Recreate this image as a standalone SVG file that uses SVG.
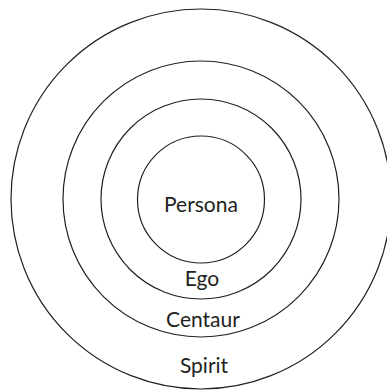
<svg xmlns="http://www.w3.org/2000/svg" width="387" height="391" viewBox="0 0 387 391">
<style>
.ring{fill:none;stroke:#231f20;stroke-width:1.2}
.lbl{font-family:Lato,"Open Sans","Liberation Sans",sans-serif;font-size:21px;fill:#231f20;text-anchor:middle}
</style>
<rect width="387" height="391" fill="#fff"/>
<g id="spirit">
<circle class="ring" cx="201" cy="199" r="190"/>
<text class="lbl" x="204" y="373">Spirit</text>
</g>
<g id="centaur">
<circle class="ring" cx="201" cy="199" r="138"/>
<text class="lbl" x="203" y="327">Centaur</text>
</g>
<g id="ego">
<circle class="ring" cx="201" cy="199" r="100"/>
<text class="lbl" x="202" y="286">Ego</text>
</g>
<g id="persona">
<circle class="ring" cx="201" cy="199.5" r="63.5"/>
<text class="lbl" x="201" y="211.5">Persona</text>
</g>
<g id="connectors"/>
</svg>
